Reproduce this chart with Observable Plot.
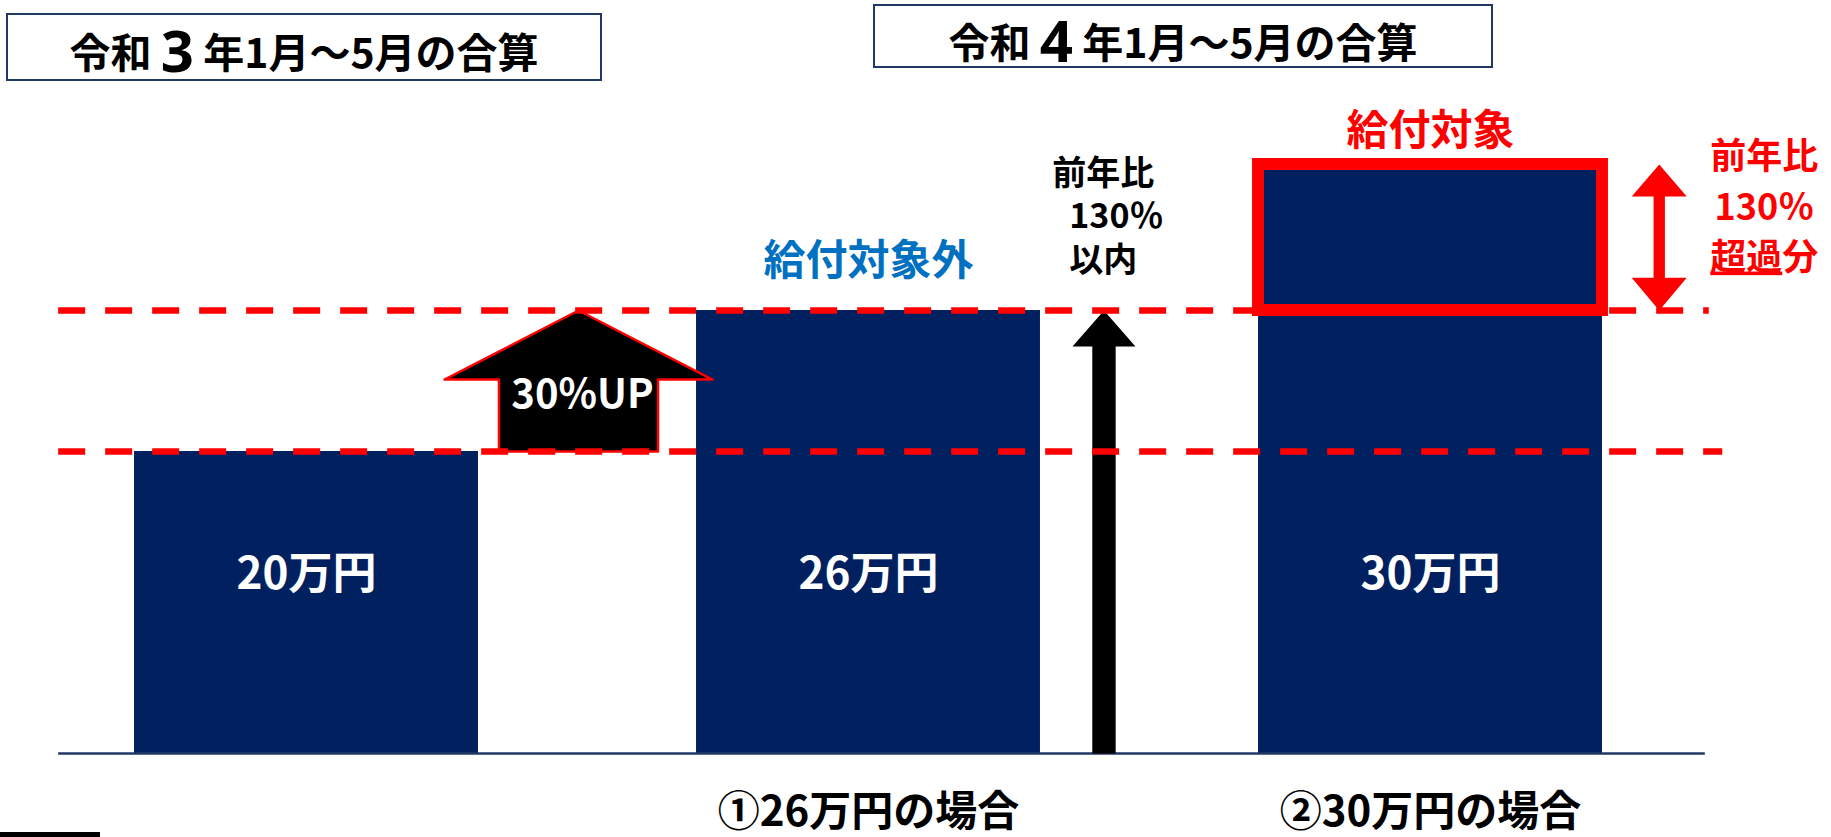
<!DOCTYPE html>
<html><head><meta charset="utf-8">
<script src="https://cdn.jsdelivr.net/npm/d3@7"></script>
<script src="https://cdn.jsdelivr.net/npm/@observablehq/plot@0.6"></script>
<style>
body{margin:0;background:#fff;font-family:'Noto Sans CJK JP',sans-serif;}
#wrap{position:relative;width:1831px;height:837px;overflow:hidden;background:#fff;}
#wrap svg{position:absolute;left:0;top:0;}
.tbox{position:absolute;box-sizing:border-box;border:2px solid #1F3864;background:#fff;display:flex;align-items:center;justify-content:center;font-weight:700;font-size:41px;color:#000;white-space:pre;line-height:1;}
.tbox .big{font-size:58px;font-family:'Open Sans','Noto Sans',sans-serif;}
#box1{left:6px;top:13px;width:596px;height:68px;padding-top:6px;}
#box2{left:873px;top:4px;width:620px;height:64px;padding-top:8px;}
#blk{position:absolute;left:0;top:832px;width:100px;height:5px;background:#000;}
</style></head>
<body><div id="wrap"></div>
<script>
// ---- data ----
const categories = ["令和3年", "令和4年①", "令和4年②"];
const values = [20, 26, 30];                  // 万円
const barLabels = ["20万円", "26万円", "30万円"];
const caseLabels = ["", "①26万円の場合", "②30万円の場合"];
const periodTitles = [["令和", "3", "年1月～5月の合算"], ["令和", "4", "年1月～5月の合算"]];
const growthRatio = 1.3;                      // 前年比130%
const upLabel = "30%UP";
const outLabel = "給付対象外";
const inLabel = "給付対象";
const withinLabel = ["前年比", "\u2002130％", "\u2002以内"];
const overLabel = ["前年比", "130％", "超過分"];

// ---- derived ----
const base = values[0];
const limit = base * growthRatio;             // 26
const data = categories.map((c, i) => ({i, c, v: values[i], label: barLabels[i]}));
const hw = 0.306;                             // bar half width (x units)

// block arrow polygons (x units / value units)
function upArrow(cx, y0, y1, headBase, sw, hwid) {
  return [[cx - sw, y0], [cx - sw, headBase], [cx - hwid, headBase], [cx, y1],
          [cx + hwid, headBase], [cx + sw, headBase], [cx + sw, y0]].map(([x, y]) => ({x, y}));
}
function dblArrow(cx, y0, y1, hb0, hb1, sw, hwid) {
  return [[cx, y0], [cx + hwid, hb0], [cx + sw, hb0], [cx + sw, hb1], [cx + hwid, hb1], [cx, y1],
          [cx - hwid, hb1], [cx - sw, hb1], [cx - sw, hb0], [cx - hwid, hb0]].map(([x, y]) => ({x, y}));
}
const arrowUp = upArrow(0.484, base, limit, base + 0.51 * (limit - base), 0.1415, 0.2384);
const arrowBlack = upArrow(1.419, 0, limit, limit - 0.255 * (limit - base), 0.0208, 0.056);
const arrowRed = dblArrow(2.407, limit, values[2], limit + 0.225 * (values[2] - limit), values[2] - 0.22 * (values[2] - limit), 0.0101, 0.049);

const font = "'Noto Sans CJK JP', 'Noto Sans', sans-serif";

const chart = Plot.plot({
  width: 1831,
  height: 837,
  marginTop: 0, marginRight: 0, marginLeft: 0, marginBottom: 84,
  style: {fontFamily: font, background: "transparent", overflow: "visible"},
  x: {type: "linear", domain: [0, 2], range: [306, 1430]},
  y: {type: "linear", domain: [0, base, limit, values[2]], range: [753, 451, 310, 164], axis: null},
  marks: [
    Plot.rect(data, {x1: d => d.i - hw, x2: d => d.i + hw, y1: 0, y2: "v", fill: "#002060"}),
    Plot.ruleY([0], {x1: -0.441, x2: 2.489, stroke: "#1F3864", strokeWidth: 2.5}),
    Plot.line(arrowUp, {x: "x", y: "y", fill: "black", stroke: "red", strokeWidth: 2.5, curve: "linear-closed"}),
    Plot.line(arrowBlack, {x: "x", y: "y", fill: "black", stroke: "none", curve: "linear-closed"}),
    Plot.line(arrowRed, {x: "x", y: "y", fill: "red", stroke: "none", curve: "linear-closed"}),
    Plot.ruleY([base], {x1: -0.441, x2: 2.52, stroke: "red", strokeWidth: 6.5, strokeDasharray: "27,20"}),
    Plot.ruleY([limit], {x1: -0.441, x2: 2.496, stroke: "red", strokeWidth: 6.5, strokeDasharray: "27,20"}),
    Plot.rect([data[2]], {x1: d => d.i - hw, x2: d => d.i + hw, y1: limit, y2: "v", fill: "none", stroke: "red", strokeWidth: 12}),
    Plot.text(data, {x: "i", y: 11.8, text: "label", fill: "white", fontSize: 44, fontWeight: 700}),
    Plot.text([data[1]], {x: "i", y: "v", dy: -49, text: () => outLabel, fill: "#0070C0", fontSize: 42, fontWeight: 700}),
    Plot.text([data[2]], {x: "i", y: "v", dy: -33, text: () => inLabel, fill: "red", fontSize: 42, fontWeight: 700}),
    Plot.text([upLabel], {x: 0.491, y: base, dy: -56, text: d => d, fill: "white", fontSize: 40, fontWeight: 700}),
    Plot.text([withinLabel.join("\n")], {x: 1.327, y: limit, dy: -96, text: d => d, textAnchor: "start", fill: "black", fontSize: 34, fontWeight: 700, lineHeight: 1.28}),
    Plot.text([overLabel.join("\n")], {x: 2.594, y: values[2], dy: 39, text: d => d, fill: "red", fontSize: 36, fontWeight: 700, lineHeight: 1.39}),
    Plot.axisX([1, 2], {anchor: "bottom", tickFormat: i => caseLabels[i], tickSize: 0, tickPadding: 43, fontSize: 42, fontWeight: 700, label: null, fill: "black"})
  ]
});

const wrap = document.getElementById("wrap");
wrap.appendChild(chart);

// underline "超過" in 超過分
chart.querySelectorAll("tspan, text").forEach(t => {
  if (t.childElementCount === 0 && t.textContent === overLabel[2]) {
    t.textContent = "";
    const u = document.createElementNS("http://www.w3.org/2000/svg", "tspan");
    u.setAttribute("text-decoration", "underline");
    u.textContent = overLabel[2].slice(0, 2);
    t.appendChild(u);
    t.appendChild(document.createTextNode(overLabel[2].slice(2)));
  }
});

// period title boxes
periodTitles.forEach((p, k) => {
  const d = document.createElement("div");
  d.className = "tbox";
  d.id = "box" + (k + 1);
  d.innerHTML = `${p[0]} <span class="big">${p[1]}</span> ${p[2]}`;
  wrap.appendChild(d);
});
const blk = document.createElement("div");
blk.id = "blk";
wrap.appendChild(blk);
</script>
</body></html>
